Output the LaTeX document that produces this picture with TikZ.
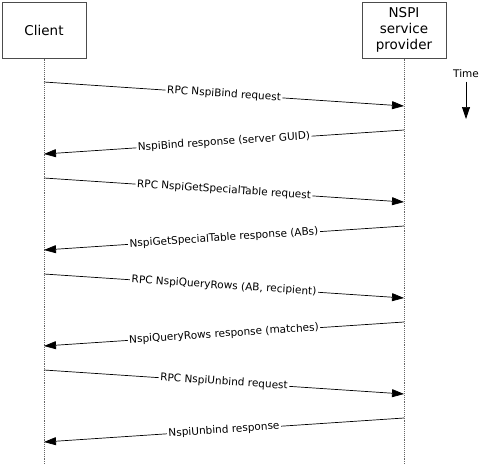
\documentclass[tikz,border=0pt]{standalone}
\usepackage{fontspec}
\setmainfont{DejaVu Sans}
\usetikzlibrary{arrows.meta,positioning,calc}
\tikzstyle{actor}=[draw=black!70,line width=1pt,minimum width=84pt,minimum height=56pt,
                align=center,font=\fontsize{13.5}{16}\selectfont]
\tikzstyle{life}=[draw=black!60,densely dotted,line width=0.9pt]
\tikzstyle{msg}=[draw,line width=0.7pt,-{Triangle[length=12pt,width=8pt]}]
\tikzstyle{lbl}=[sloped,fill=white,inner sep=1.5pt,font=\fontsize{10.5}{12}\selectfont]

\begin{document}
\begin{tikzpicture}[x=1pt,y=-1pt]

% % % % % % % % % % % % % % %

\useasboundingbox (0,0) rectangle (492,469);

\node[actor] (client) at (44,30) {Client};
\node[actor] (nspi) at (404,30) {NSPI\\service\\provider};

\coordinate (clientEnd) at (44,465);
\coordinate (nspiEnd) at (404,465);
\draw[life] (client.south) -- (clientEnd);
\draw[life] (nspi.south) -- (nspiEnd);

\node[font=\fontsize{10.5}{12}\selectfont] (time) at (466,74) {Time};
\coordinate (timeEnd) at (466,119);
\draw[msg] (time.south) -- (timeEnd);

\foreach \i/\from/\to/\txt in {1/client/nspi/{RPC NspiBind request},
      2/nspi/client/{NspiBind response (server GUID)},
      3/client/nspi/{RPC NspiGetSpecialTable request},
      4/nspi/client/{NspiGetSpecialTable response (ABs)},
      5/client/nspi/{RPC NspiQueryRows (AB, recipient)},
      6/nspi/client/{NspiQueryRows response (matches)},
      7/client/nspi/{RPC NspiUnbind request},
      8/nspi/client/{NspiUnbind response}} {
\coordinate (a\i) at (\from |- 0,{34+48*\i});
\coordinate (b\i) at (\to |- 0,{58+48*\i});
\draw[msg] (a\i) -- node[lbl]{\txt} (b\i);
}

\end{tikzpicture}
\end{document}
